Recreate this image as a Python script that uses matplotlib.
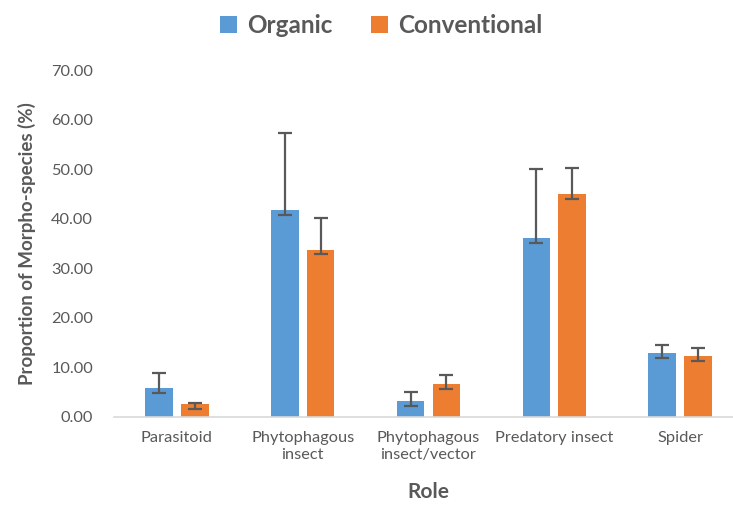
import numpy as np
import matplotlib.pyplot as plt

# Data
roles = ['Parasitoid', 'Phytophagous\ninsect', 'Phytophagous\ninsect/vector',
         'Predatory insect', 'Spider']
organic = [5.85, 41.8, 3.2, 36.05, 12.85]
organic_low = [4.9, 40.8, 2.3, 35.1, 11.95]
organic_high = [8.95, 57.2, 5.0, 50.0, 14.45]
conventional = [2.55, 33.7, 6.6, 44.9, 12.3]
conventional_low = [1.6, 32.9, 5.65, 44.0, 11.3]
conventional_high = [2.9, 40.2, 8.5, 50.2, 13.85]

BLUE = '#5B9BD5'
ORANGE = '#ED7D31'
TEXT = '#595959'

plt.rcParams['font.family'] = ['Lato', 'DejaVu Sans']

fig = plt.figure(figsize=(7.33, 5.05), dpi=100)
ax = fig.add_axes([114 / 733, 1 - 417 / 505, 629 / 733, 347 / 505])

x = np.arange(len(roles))
w = 0.22
off = 0.142

def err(vals, low, high):
    return [np.array(vals) - np.array(low), np.array(high) - np.array(vals)]

ax.bar(x - off, organic, w, color=BLUE, label='Organic', zorder=2)
ax.bar(x + off, conventional, w, color=ORANGE, label='Conventional', zorder=2)
ax.errorbar(x - off, organic, yerr=err(organic, organic_low, organic_high),
            fmt='none', ecolor='#595959', elinewidth=1.6, capsize=5, capthick=1.6, zorder=3)
ax.errorbar(x + off, conventional, yerr=err(conventional, conventional_low, conventional_high),
            fmt='none', ecolor='#595959', elinewidth=1.6, capsize=5, capthick=1.6, zorder=3)

ax.set_xlim(-0.5, len(roles) - 0.5)
ax.set_ylim(0, 70)
ax.set_yticks(np.arange(0, 71, 10))
ax.set_yticklabels([f'{v:.2f}' for v in np.arange(0, 71, 10)])
ax.set_xticks(x)
ax.set_xticklabels(roles, linespacing=1.3)
ax.tick_params(axis='both', length=0, colors=TEXT, labelsize=11.8)
ax.tick_params(axis='y', pad=15)
ax.tick_params(axis='x', pad=10)

for s in ['top', 'right', 'left']:
    ax.spines[s].set_visible(False)
ax.spines['bottom'].set_color('#D9D9D9')
ax.spines['bottom'].set_linewidth(1.2)

ax.set_xlabel('Role', fontsize=15, fontweight='bold', color=TEXT, labelpad=14)
ax.set_ylabel('Proportion of Morpho-species (%)', fontsize=13.5, fontweight='bold',
              color=TEXT, labelpad=11)

leg = fig.legend(loc='upper center', bbox_to_anchor=(0.52, 1.015), ncol=2, frameon=False,
                 fontsize=17.5, handlelength=0.7, handleheight=0.7, handletextpad=0.4,
                 columnspacing=1.6)
for t in leg.get_texts():
    t.set_color(TEXT)
    t.set_fontweight('bold')

fig.savefig('out.png', dpi=100)
